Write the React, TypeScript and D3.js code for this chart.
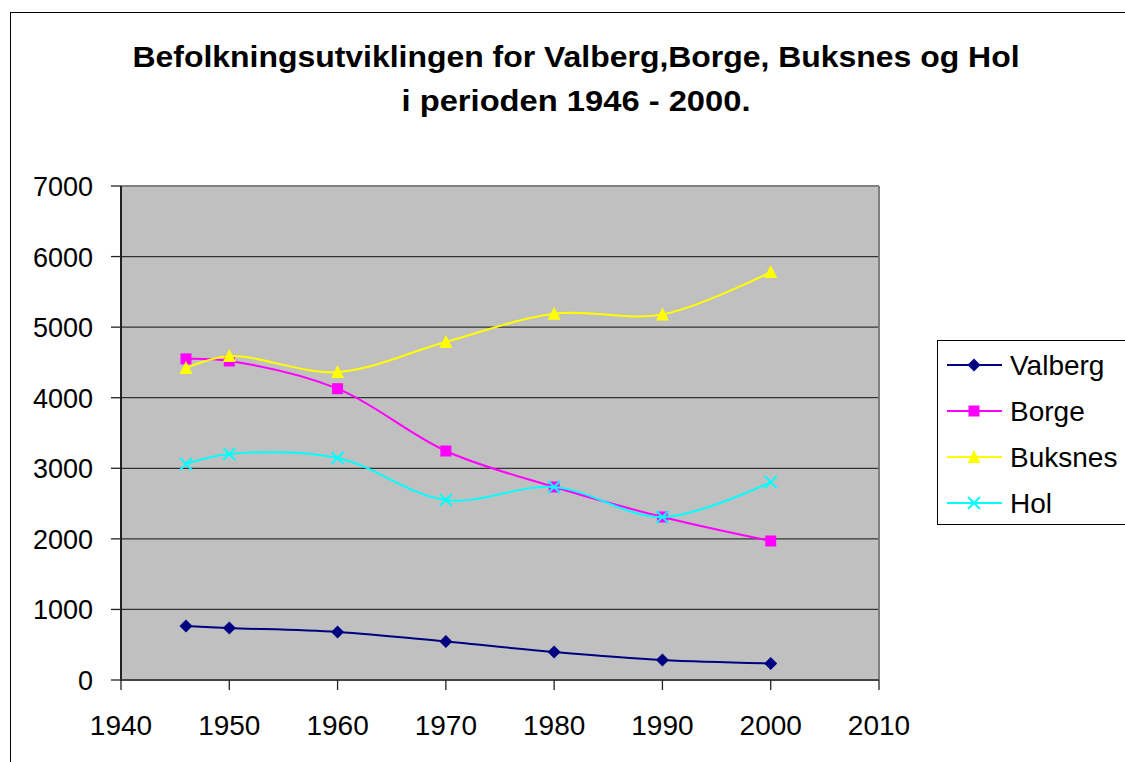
import React from "react";
import * as d3 from "d3";

const years = [1946, 1950, 1960, 1970, 1980, 1990, 2000];
const valberg = [765, 737, 680, 545, 397, 283, 235];
const borge = [4550, 4520, 4128, 3245, 2735, 2310, 1970];
const buksnes = [4420, 4590, 4364, 4790, 5190, 5180, 5781];
const hol = [3060, 3202, 3146, 2550, 2735, 2310, 2805];
const seriesNames = ["Valberg", "Borge", "Buksnes", "Hol"];
const seriesColors = ["#000080", "#FF00FF", "#FFFF00", "#00FFFF"];
const xTicks = [1940, 1950, 1960, 1970, 1980, 1990, 2000, 2010];
const yTicks = [0, 1000, 2000, 3000, 4000, 5000, 6000, 7000];
const titleLines = ["Befolkningsutviklingen for Valberg,Borge, Buksnes og Hol", "i perioden 1946 - 2000."];
const titleWidths = [887, 349];

const FONT = "'Liberation Sans', Arial, Helvetica, sans-serif";

function Marker({ kind, x, y, color }: { kind: number; x: number; y: number; color: string }) {
  if (kind === 0) {
    const r = 6.5;
    return <path d={`M${x},${y - r}L${x + r},${y}L${x},${y + r}L${x - r},${y}Z`} fill={color} />;
  }
  if (kind === 1) {
    return <rect x={x - 5.5} y={y - 5.5} width={11} height={11} fill={color} />;
  }
  if (kind === 2) {
    return <path d={`M${x},${y - 7}L${x + 6.5},${y + 6}L${x - 6.5},${y + 6}Z`} fill={color} />;
  }
  const r = 6;
  return (
    <path d={`M${x - r},${y - r}L${x + r},${y + r}M${x - r},${y + r}L${x + r},${y - r}`} stroke={color} strokeWidth={2} />
  );
}

export default function App() {
  const W = 1125, H = 762;
  const left = 121, right = 879, top = 186, bottom = 680;
  const x = d3.scaleLinear().domain([1940, 2010]).range([left, right]);
  const y = d3.scaleLinear().domain([0, 7000]).range([bottom, top]);
  const data = [valberg, borge, buksnes, hol];
  const line = d3
    .line<number>()
    .x((_, i) => x(years[i]))
    .y((d) => y(d))
    .curve(d3.curveCatmullRom.alpha(0.5));

  const legendY = [365, 411, 457, 503];

  return (
    <svg width={W} height={H} style={{ position: "absolute", left: 0, top: 0, background: "#fff" }}>
      <rect x={10.5} y={12.5} width={W + 20} height={H + 20} fill="#fff" stroke="#000" strokeWidth={1} />
      {titleLines.map((t, i) => (
        <text
          key={i}
          x={576}
          y={67 + i * 44}
          textAnchor="middle"
          fontFamily={FONT}
          fontWeight="bold"
          fontSize={30}
          textLength={titleWidths[i]}
          lengthAdjust="spacingAndGlyphs"
          fill="#000"
        >
          {t}
        </text>
      ))}
      <rect x={left} y={top} width={right - left} height={bottom - top} fill="#C0C0C0" />
      {yTicks.slice(1).map((t) => (
        <line key={t} x1={left} x2={right} y1={y(t)} y2={y(t)} stroke={t === 7000 ? "#808080" : "#333"} strokeWidth={t === 7000 ? 2 : 1.3} />
      ))}
      <line x1={right} x2={right} y1={top} y2={bottom} stroke="#808080" strokeWidth={2} />
      <line x1={left} x2={left} y1={top} y2={bottom + 1} stroke="#222" strokeWidth={2} />
      <line x1={left} x2={right} y1={bottom} y2={bottom} stroke="#444" strokeWidth={2} />
      {yTicks.map((t) => (
        <g key={t}>
          <line x1={111} x2={left} y1={y(t)} y2={y(t)} stroke="#222" strokeWidth={1.3} />
          <text x={93} y={y(t) + 10} textAnchor="end" fontFamily={FONT} fontSize={27} fill="#000">
            {t}
          </text>
        </g>
      ))}
      {xTicks.map((t) => (
        <g key={t}>
          <line x1={x(t)} x2={x(t)} y1={bottom} y2={bottom + 10} stroke="#222" strokeWidth={1.3} />
          <text x={x(t)} y={735} textAnchor="middle" fontFamily={FONT} fontSize={28} fill="#000">
            {t}
          </text>
        </g>
      ))}
      {data.map((s, k) => (
        <g key={k}>
          <path d={line(s) || ""} fill="none" stroke={seriesColors[k]} strokeWidth={2} />
          {s.map((v, i) => (
            <Marker key={i} kind={k} x={x(years[i])} y={y(v)} color={seriesColors[k]} />
          ))}
        </g>
      ))}
      <rect x={937.5} y={340.5} width={200} height={184} fill="#fff" stroke="#000" strokeWidth={1} />
      {seriesNames.map((n, k) => (
        <g key={n}>
          <line x1={947} x2={1002} y1={legendY[k]} y2={legendY[k]} stroke={seriesColors[k]} strokeWidth={2} />
          <Marker kind={k} x={974} y={legendY[k]} color={seriesColors[k]} />
          <text x={1010} y={legendY[k] + 10} fontFamily={FONT} fontSize={28} fill="#000">
            {n}
          </text>
        </g>
      ))}
    </svg>
  );
}
